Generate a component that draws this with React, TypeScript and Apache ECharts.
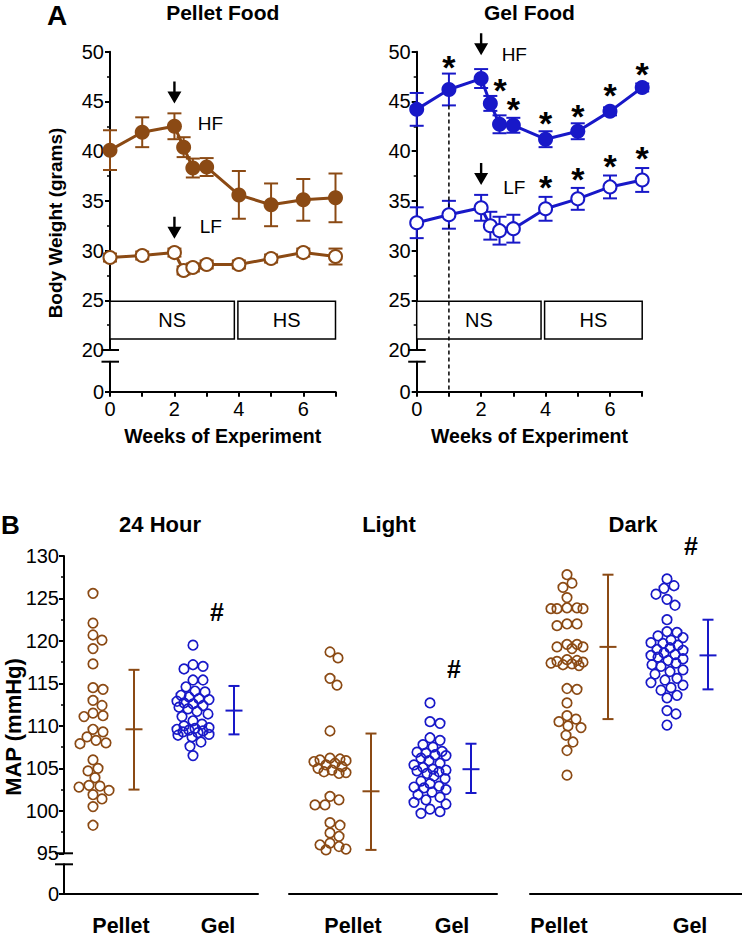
import React, { useEffect, useRef } from "react";
import * as echarts from "echarts";

const BROWN = "#8B4A14";
const BLUE = "#1818C8";
const BLACK = "#000";
const FONT = "'Liberation Sans', Arial, Helvetica, sans-serif";

// ---------- Panel A : body weight ----------
const weeks = [0, 1, 2, 16 / 7, 18 / 7, 3, 4, 5, 6, 7];
const pelletHF = [40.1, 41.9, 42.5, 40.4, 38.3, 38.4, 35.6, 34.6, 35.1, 35.3];
const pelletHFsem = [2.0, 1.5, 1.3, 1.0, 0.95, 0.9, 2.4, 2.15, 2.1, 2.45];
const pelletLF = [29.3, 29.5, 29.8, 28.0, 28.3, 28.6, 28.6, 29.2, 29.8, 29.4];
const pelletLFsem = [0.4, 0.4, 0.4, 0.4, 0.4, 0.4, 0.4, 0.4, 0.4, 0.8];
const gelHF = [44.2, 46.2, 47.3, 44.8, 42.7, 42.6, 41.2, 42.0, 44.0, 46.4];
const gelHFsem = [1.65, 1.6, 0.95, 0.75, 0.9, 0.75, 0.8, 0.8, 0.4, 0.4];
const gelLF = [32.8, 33.6, 34.3, 32.5, 32.0, 32.2, 34.2, 35.2, 36.4, 37.1];
const gelLFsem = [1.55, 1.4, 1.3, 1.4, 1.4, 1.4, 1.2, 1.1, 1.15, 1.2];

const stageNames = ["NS", "HS"];
const stageStart = [0, 3.97];
const stageEnd = [3.86, 7.0];
const stageLow = 21.1;
const stageHigh = 24.9;

const switchWeek = 2;
const pelletArrowY = [45.9, 32.3];
const gelArrowY = [50.75, 37.7];
const dietTags = ["HF", "LF"];
const pelletTagX = [3.12, 3.13];
const pelletTagY = [42.8, 32.4];
const gelTagX = [3.03, 3.03];
const gelTagY = [49.7, 36.3];
const gelStarX = [1, 2.59, 3, 4, 5, 6, 7, 4, 5, 6, 7];
const gelStarY = [49.0, 46.7, 44.7, 43.3, 44.0, 46.1, 48.3, 36.9, 37.7, 39.0, 39.8];
const gelDashWeek = 1;
const gelDashTop = 44.6;

// ---------- Panel B : MAP ----------
const periods = ["24 Hour", "Light", "Dark"];
const diets = ["Pellet", "Gel"];
const pellet24 = [125.6, 122.1, 120.7, 120.1, 119.1, 117.3, 114.5, 114.3, 113.0, 112.4, 111.5, 111.1, 111.2, 109.3, 109.6, 108.7, 108.3, 107.9, 108.0, 106.0, 104.7, 105.0, 103.9, 103.0, 102.8, 102.9, 102.4, 101.9, 101.4, 100.5, 98.3];
const gel24 = [119.5, 117.2, 117.0, 116.7, 115.4, 115.4, 114.6, 114.1, 114.0, 113.6, 113.4, 113.2, 113.1, 112.9, 112.7, 112.6, 112.4, 112.2, 112.0, 111.7, 111.4, 111.1, 110.6, 110.2, 110.0, 109.8, 109.7, 109.6, 109.5, 109.4, 109.3, 109.2, 109.0, 108.9, 108.7, 108.1, 107.6, 106.5];
const pelletLight = [118.7, 118.0, 115.6, 114.8, 109.4, 106.2, 106.1, 106.0, 105.9, 105.8, 105.6, 105.4, 105.2, 105.0, 104.8, 104.6, 104.5, 104.4, 101.7, 101.3, 100.7, 100.7, 98.6, 98.3, 97.4, 97.0, 96.2, 96.0, 95.8, 95.5, 95.4];
const gelLight = [112.7, 110.5, 110.3, 108.6, 108.3, 107.8, 107.5, 107.0, 106.9, 106.8, 106.6, 106.5, 106.2, 105.9, 105.6, 105.4, 105.1, 104.9, 104.8, 104.7, 104.6, 104.4, 104.1, 103.8, 103.5, 103.2, 102.9, 102.8, 102.7, 102.5, 102.2, 101.9, 101.6, 101.3, 101.0, 100.8, 100.2, 99.9, 99.7];
const pelletDark = [127.8, 126.8, 126.3, 125.1, 123.9, 123.9, 123.8, 123.8, 123.8, 122.0, 122.0, 121.8, 119.6, 119.6, 119.3, 119.3, 119.1, 117.8, 117.7, 117.6, 117.5, 117.4, 117.3, 117.2, 117.1, 114.4, 114.3, 112.7, 111.2, 110.8, 110.5, 110.0, 109.8, 108.9, 108.1, 107.1, 104.2];
const gelDark = [127.3, 126.5, 126.2, 125.5, 124.9, 124.2, 122.5, 121.1, 121.0, 120.6, 120.4, 120.1, 119.8, 119.7, 119.5, 119.2, 119.0, 118.9, 118.6, 118.4, 118.3, 118.1, 117.9, 117.7, 117.4, 117.2, 117.0, 116.6, 116.4, 116.1, 115.6, 115.4, 115.1, 114.8, 114.5, 114.2, 113.6, 113.3, 111.8, 111.4, 110.1];
const mapMean = [109.6, 111.8, 102.3, 104.9, 119.3, 118.3];
const mapLow = [102.5, 109.0, 95.4, 102.1, 110.8, 114.3];
const mapHigh = [116.6, 114.7, 109.1, 107.9, 127.8, 122.5];
const hashY = [123.4, 116.7, 131.2];

// ---------- layout ----------
const A_LEFT = [110, 416.7];
const A_W = 225.5;
const A_TOP = 51.7;
const A_UP_H = 298.3;
const A_GAP = 11.7;
const A_LOW_H = 30;

const B_LEFT = 64;
const B_W = 678;
const B_TOP = 556;
const B_UP_H = 297.3;
const B_GAP = 11;
const B_LOW_H = 29.7;
const B_SEG_LEFT = [64, 289, 530];
const B_SEG_W = [194, 208, 212];
const B_XMIN = -0.29;
const B_PX_PER_X = 100;
const B_XMAX = B_XMIN + B_W / B_PX_PER_X;
const B_POS = [0, 1, 2.37, 3.37, 4.74, 5.74];
const B_BAR_OFF = 0.41;
const B_LABEL_POS = [0.28, 1.25, 2.6, 3.59, 4.66, 5.97];
const B_HASH_X = [1.24, 3.61, 5.98];
const B_PX_PER_Y = B_UP_H / 35;

function swarm(values: number[], pxPerY: number, diameter: number, maxHalf: number): number[] {
  const order = values.map((_, i) => i).sort((a, b) => values[b] - values[a]);
  const placed: { x: number; y: number }[] = [];
  const out = new Array(values.length).fill(0);
  for (const i of order) {
    const y = values[i] * pxPerY;
    let bestX = 0;
    let bestD = -1;
    for (let k = 0; k <= 2 * maxHalf; k++) {
      const cx = k === 0 ? 0 : (k % 2 === 1 ? 1 : -1) * Math.ceil(k / 2);
      let minD = Infinity;
      for (const p of placed) {
        const d = Math.hypot(p.x - cx, p.y - y);
        if (d < minD) minD = d;
      }
      if (minD >= diameter) {
        bestX = cx;
        bestD = minD;
        break;
      }
      if (minD > bestD) {
        bestD = minD;
        bestX = cx;
      }
    }
    placed.push({ x: bestX, y });
    out[i] = bestX;
  }
  return out;
}

function errA(color: string, cap: number) {
  return (_p: any, api: any) => {
    const x = api.value(0);
    const top = api.coord([x, api.value(2)]);
    const bot = api.coord([x, api.value(1)]);
    const st = { stroke: color, lineWidth: 2 };
    return {
      type: "group",
      children: [
        { type: "line", shape: { x1: top[0], y1: top[1], x2: bot[0], y2: bot[1] }, style: st },
        { type: "line", shape: { x1: top[0] - cap / 2, y1: top[1], x2: top[0] + cap / 2, y2: top[1] }, style: st },
        { type: "line", shape: { x1: bot[0] - cap / 2, y1: bot[1], x2: bot[0] + cap / 2, y2: bot[1] }, style: st },
      ],
    };
  };
}

function errB(color: string) {
  return (_p: any, api: any) => {
    const x = api.value(0);
    const m = api.coord([x, api.value(1)]);
    const lo = api.coord([x, api.value(2)]);
    const hi = api.coord([x, api.value(3)]);
    const st = { stroke: color, lineWidth: 2 };
    return {
      type: "group",
      children: [
        { type: "line", shape: { x1: hi[0], y1: hi[1], x2: lo[0], y2: lo[1] }, style: st },
        { type: "line", shape: { x1: hi[0] - 5.5, y1: hi[1], x2: hi[0] + 5.5, y2: hi[1] }, style: st },
        { type: "line", shape: { x1: lo[0] - 5.5, y1: lo[1], x2: lo[0] + 5.5, y2: lo[1] }, style: st },
        { type: "line", shape: { x1: m[0] - 8.5, y1: m[1], x2: m[0] + 8.5, y2: m[1] }, style: st },
      ],
    };
  };
}

const ARROW = "path://M5.8,0 L8.2,0 L8.2,10 L14,10 L7,22 L0,10 L5.8,10 Z";

function buildOption() {
  const grids: any[] = [];
  const xAxes: any[] = [];
  const yAxes: any[] = [];
  const series: any[] = [];
  const graphics: any[] = [];

  const axisLine = { show: true, onZero: false, lineStyle: { color: BLACK, width: 2 } };
  const labelStyle = { color: BLACK, fontSize: 20, fontFamily: FONT };

  // ---- panel A grids ----
  A_LEFT.forEach((left, p) => {
    grids.push({ left, top: A_TOP, width: A_W, height: A_UP_H, outerBoundsMode: "none" });
    grids.push({ left, top: A_TOP + A_UP_H + A_GAP, width: A_W, height: A_LOW_H, outerBoundsMode: "none" });
    const gU = p * 2;
    const gL = p * 2 + 1;
    xAxes.push({ gridIndex: gU, type: "value", min: 0, max: 7, show: false });
    xAxes.push({
      gridIndex: gL, type: "value", min: 0, max: 7, interval: 1,
      axisLine, axisTick: { show: true, length: 5, lineStyle: { color: BLACK, width: 2 } },
      splitLine: { show: false },
      axisLabel: { ...labelStyle, margin: 7, formatter: (v: number) => (v % 2 === 0 ? String(v) : "") },
      name: "Weeks of Experiment", nameLocation: "middle", nameGap: 34,
      nameTextStyle: { fontSize: 19.5, fontWeight: "bold", color: BLACK, fontFamily: FONT },
    });
    yAxes.push({
      gridIndex: gU, type: "value", min: 20, max: 50, interval: 5,
      axisLine, axisTick: { show: true, length: 5, lineStyle: { color: BLACK, width: 2 } },
      minorTick: { show: true, splitNumber: 2, length: 3, lineStyle: { color: BLACK, width: 1.5 } },
      splitLine: { show: false }, minorSplitLine: { show: false },
      axisLabel: { ...labelStyle, margin: 6 },
    });
    yAxes.push({
      gridIndex: gL, type: "value", min: 0, max: 3,
      axisLine, axisTick: { show: true, length: 5, customValues: [0], lineStyle: { color: BLACK, width: 2 } },
      splitLine: { show: false },
      axisLabel: { ...labelStyle, margin: 6, customValues: [0] },
    });
    [A_TOP + A_UP_H, A_TOP + A_UP_H + A_GAP].forEach((y) => {
      graphics.push({ type: "line", shape: { x1: left - 8.5, y1: y, x2: left + 9, y2: y }, style: { stroke: BLACK, lineWidth: 2 } });
    });
  });

  const addWeightPanel = (
    p: number, color: string, hf: number[], hfSem: number[], lf: number[], lfSem: number[],
    arrowY: number[], tagX: number[], tagY: number[]
  ) => {
    const xi = p * 2;
    const yi = p * 2;
    series.push({
      type: "custom", xAxisIndex: xi, yAxisIndex: yi, z: 1, renderItem: errA(color, 14),
      encode: { x: 0, y: [1, 2] },
      data: weeks.map((w, i) => [w, hf[i] - hfSem[i], hf[i] + hfSem[i]]),
    });
    series.push({
      type: "custom", xAxisIndex: xi, yAxisIndex: yi, z: 1, renderItem: errA(color, 14),
      encode: { x: 0, y: [1, 2] },
      data: weeks.map((w, i) => [w, lf[i] - lfSem[i], lf[i] + lfSem[i]]),
    });
    series.push({
      type: "line", name: "HF", xAxisIndex: xi, yAxisIndex: yi, z: 3,
      data: weeks.map((w, i) => [w, hf[i]]),
      symbol: "circle", symbolSize: 15, showAllSymbol: true,
      itemStyle: { color, opacity: 1 }, lineStyle: { color, width: 3 },
      markArea: {
        silent: true,
        itemStyle: { color: "#fff", borderColor: BLACK, borderWidth: 1.5, opacity: 1 },
        label: { show: true, position: "inside", color: BLACK, fontSize: 20, fontFamily: FONT },
        data: stageNames.map((n, i) => [
          { name: n, xAxis: stageStart[i], yAxis: stageLow },
          { xAxis: stageEnd[i], yAxis: stageHigh },
        ]),
      },
    });
    series.push({
      type: "line", name: "LF", xAxisIndex: xi, yAxisIndex: yi, z: 3,
      data: weeks.map((w, i) => [w, lf[i]]),
      symbol: "circle", symbolSize: 13, showAllSymbol: true,
      itemStyle: { color: "#fff", borderColor: color, borderWidth: 2, opacity: 1 },
      lineStyle: { color, width: 3 },
    });
    series.push({
      type: "scatter", xAxisIndex: xi, yAxisIndex: yi, z: 4, clip: false, silent: true,
      symbol: ARROW, symbolSize: [14, 22], itemStyle: { color: BLACK, opacity: 1 },
      data: arrowY.map((y) => [switchWeek, y]),
    });
    series.push({
      type: "scatter", xAxisIndex: xi, yAxisIndex: yi, z: 4, clip: false, silent: true,
      symbolSize: 1, itemStyle: { color: "rgba(0,0,0,0)", opacity: 1 },
      label: { show: true, position: "inside", formatter: "{b}", color: BLACK, opacity: 1, fontSize: 19, fontFamily: FONT },
      data: dietTags.map((t, i) => ({ name: t, value: [tagX[i], tagY[i]] })),
    });
  };

  addWeightPanel(0, BROWN, pelletHF, pelletHFsem, pelletLF, pelletLFsem, pelletArrowY, pelletTagX, pelletTagY);
  addWeightPanel(1, BLUE, gelHF, gelHFsem, gelLF, gelLFsem, gelArrowY, gelTagX, gelTagY);

  series.push({
    type: "scatter", xAxisIndex: 2, yAxisIndex: 2, z: 4, clip: false, silent: true,
    symbolSize: 1, itemStyle: { color: "rgba(0,0,0,0)", opacity: 1 },
    label: { show: true, position: "inside", formatter: "*", color: BLACK, opacity: 1, fontSize: 34, fontWeight: "bold", fontFamily: FONT, offset: [0, 5] },
    data: gelStarX.map((x, i) => [x, gelStarY[i]]),
  });
  series.push({
    type: "custom", xAxisIndex: 2, yAxisIndex: 2, z: 1, silent: true,
    renderItem: (_p: any, api: any) => {
      const x = api.value(0);
      const t = api.coord([x, api.value(1)]);
      const b = api.coord([x, 20]);
      return {
        type: "line",
        shape: { x1: t[0], y1: t[1], x2: b[0], y2: b[1] + A_GAP + A_LOW_H },
        style: { stroke: BLACK, lineWidth: 1.5, lineDash: [4, 3] },
      };
    },
    encode: { x: 0, y: 1 },
    data: [[gelDashWeek, gelDashTop]],
  });

  // ---- panel B grids ----
  const gB = grids.length;
  grids.push({ left: B_LEFT, top: B_TOP, width: B_W, height: B_UP_H, outerBoundsMode: "none" });
  xAxes.push({ gridIndex: gB, type: "value", min: B_XMIN, max: B_XMAX, show: false });
  yAxes.push({
    gridIndex: gB, type: "value", min: 95, max: 130, interval: 5,
    axisLine, axisTick: { show: true, length: 5, lineStyle: { color: BLACK, width: 2 } },
    minorTick: { show: true, splitNumber: 2, length: 3, lineStyle: { color: BLACK, width: 1.5 } },
    splitLine: { show: false }, minorSplitLine: { show: false },
    axisLabel: { ...labelStyle, margin: 5 },
  });
  B_SEG_LEFT.forEach((left, s) => {
    const g = grids.length;
    grids.push({ left, top: B_TOP + B_UP_H + B_GAP, width: B_SEG_W[s], height: B_LOW_H, outerBoundsMode: "none" });
    xAxes.push({
      gridIndex: g, type: "value", min: 0, max: 1, axisLine,
      axisTick: { show: false }, axisLabel: { show: false }, splitLine: { show: false },
    });
    yAxes.push(
      s === 0
        ? {
            gridIndex: g, type: "value", min: 0, max: 3.5, axisLine,
            axisTick: { show: true, length: 5, customValues: [0], lineStyle: { color: BLACK, width: 2 } },
            splitLine: { show: false },
            axisLabel: { ...labelStyle, margin: 5, customValues: [0] },
          }
        : { gridIndex: g, type: "value", min: 0, max: 3.5, show: false }
    );
  });
  [B_TOP + B_UP_H, B_TOP + B_UP_H + B_GAP].forEach((y) => {
    graphics.push({ type: "line", shape: { x1: B_LEFT - 9, y1: y, x2: B_LEFT + 9, y2: y }, style: { stroke: BLACK, lineWidth: 2 } });
  });

  const groups = [pellet24, gel24, pelletLight, gelLight, pelletDark, gelDark];
  groups.forEach((vals, gi) => {
    const color = gi % 2 === 0 ? BROWN : BLUE;
    const offs = swarm(vals, B_PX_PER_Y, 9.5, 16);
    series.push({
      type: "scatter", xAxisIndex: gB, yAxisIndex: gB, z: 3, silent: true,
      symbol: "circle", symbolSize: 9.5,
      itemStyle: { color: "rgba(0,0,0,0)", borderColor: color, borderWidth: 1.7, opacity: 1 },
      data: vals.map((v, i) => [B_POS[gi] + offs[i] / B_PX_PER_X, v]),
    });
  });
  [0, 1].forEach((d) => {
    const color = d === 0 ? BROWN : BLUE;
    const idx = [0, 1, 2].map((k) => k * 2 + d);
    series.push({
      type: "custom", xAxisIndex: gB, yAxisIndex: gB, z: 2, silent: true,
      renderItem: errB(color), encode: { x: 0, y: [1, 2, 3] },
      data: idx.map((i) => [B_POS[i] + B_BAR_OFF, mapMean[i], mapLow[i], mapHigh[i]]),
    });
  });
  series.push({
    type: "scatter", xAxisIndex: gB, yAxisIndex: gB, z: 4, clip: false, silent: true,
    symbolSize: 1, itemStyle: { color: "rgba(0,0,0,0)", opacity: 1 },
    label: { show: true, position: "inside", formatter: "#", color: BLACK, opacity: 1, fontSize: 25, fontWeight: "bold", fontFamily: FONT },
    data: B_HASH_X.map((x, i) => [x, hashY[i]]),
  });

  // ---- texts ----
  const txt = (text: string, x: number, y: number, size: number, bold: boolean, extra: any = {}) => ({
    type: "text", x, y, silent: true, ...extra,
    style: { text, fill: BLACK, fontSize: size, fontWeight: bold ? "bold" : "normal", fontFamily: FONT, align: extra.align || "center", verticalAlign: "middle" },
  });
  graphics.push(txt("A", 47, 15, 28, true, { align: "left" }));
  graphics.push(txt("Pellet Food", A_LEFT[0] + A_W / 2, 12, 21, true));
  graphics.push(txt("Gel Food", A_LEFT[1] + A_W / 2, 12, 21, true));
  graphics.push(txt("Body Weight (grams)", 55, 223, 19, true, { rotation: Math.PI / 2 }));
  graphics.push(txt("B", 1, 525, 26, true, { align: "left" }));
  graphics.push(txt("MAP (mmHg)", 13, 727, 22, true, { rotation: Math.PI / 2 }));
  const titleX = [160, 389, 633];
  periods.forEach((p, i) => graphics.push(txt(p, titleX[i], 524, 22, true)));
  B_LABEL_POS.forEach((pos, i) => {
    graphics.push(txt(diets[i % 2], B_LEFT + (pos - B_XMIN) * B_PX_PER_X, 926, 21.5, true));
  });

  return {
    animation: false,
    backgroundColor: "#fff",
    textStyle: { fontFamily: FONT },
    grid: grids,
    xAxis: xAxes,
    yAxis: yAxes,
    series,
    graphic: { elements: graphics },
  };
}

export default function App() {
  const ref = useRef<HTMLDivElement>(null);
  useEffect(() => {
    if (!ref.current) return;
    const chart = echarts.init(ref.current, undefined, { renderer: "svg" });
    chart.setOption(buildOption() as any);
    return () => chart.dispose();
  }, []);
  return (
    <div
      ref={ref}
      style={{ position: "absolute", left: 0, top: 0, width: 742, height: 939, background: "#fff" }}
    />
  );
}
